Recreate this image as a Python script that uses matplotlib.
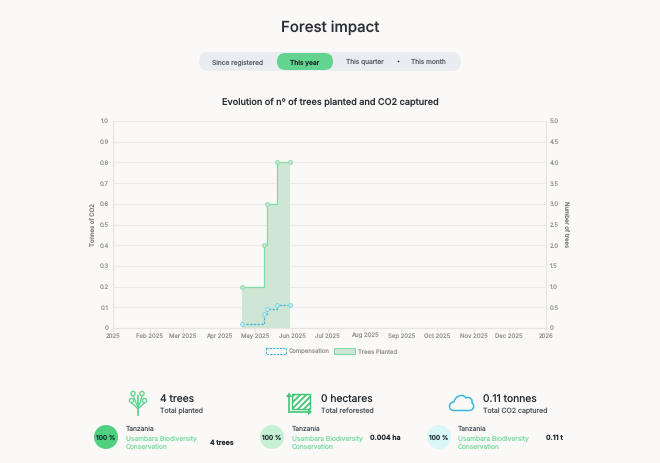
import numpy as np
import matplotlib
matplotlib.use('Agg')
import matplotlib.pyplot as plt
from matplotlib.patches import FancyBboxPatch, Circle, Rectangle, Polygon, PathPatch
from matplotlib.path import Path

# values
tree_dates = ['2025-04-20', '2025-05-08', '2025-05-11', '2025-05-19', '2025-05-30']
trees = [1, 2, 3, 4, 4]
compensation = [0.02, 0.07, 0.09, 0.11, 0.11]

month_starts = ['2025-01-01', '2025-02-01', '2025-03-01', '2025-04-01', '2025-05-01', '2025-06-01',
                '2025-07-01', '2025-08-01', '2025-09-01', '2025-10-01', '2025-11-01', '2025-12-01',
                '2026-01-01']
month_labels = ['2025', 'Feb 2025', 'Mar 2025', 'Apr 2025', 'May 2025', 'Jun 2025', 'Jul 2025',
                'Aug 2025', 'Sep 2025', 'Oct 2025', 'Nov 2025', 'Dec 2025', '2026']
left_ticks = [0, 0.1, 0.2, 0.3, 0.4, 0.5, 0.6, 0.7, 0.8, 0.9, 1.0]
left_labels = ['0', '0.1', '0.2', '0.3', '0.4', '0.5', '0.6', '0.7', '0.8', '0.9', '1.0']
right_ticks = [0, 0.5, 1, 1.5, 2, 2.5, 3, 3.5, 4, 4.5, 5]
right_labels = ['0', '0.5', '1.0', '1.5', '2.0', '2.5', '3.0', '3.5', '4.0', '4.5', '5.0']

plt.rcParams['font.family'] = ['Inter', 'DejaVu Sans']
plt.rcParams['text.hinting'] = 'no_hinting'
plt.rcParams['text.hinting_factor'] = 1

BG = '#faf9f8'
GREEN = '#7fdca5'
BLUE = '#3db8dc'
GREY = '#999999'
W, H = 660, 463

fig = plt.figure(figsize=(W / 100, H / 100), dpi=100, facecolor=BG)

# overlay in pixel coords for the page parts around the chart
page = fig.add_axes([0, 0, 1, 1])
page.set_xlim(0, W)
page.set_ylim(H, 0)
page.axis('off')


def txt(x, y, s, size, color='#333a40', weight='normal', ha='left'):
    page.text(x, y, s, fontsize=size, color=color, fontweight=weight, ha=ha, va='center_baseline')


txt(330, 26.5, 'Forest impact', 10.8, '#2b3137', 'medium', 'center')
page.add_patch(FancyBboxPatch((199, 52), 262, 19, boxstyle='round,pad=0,rounding_size=9.5',
                              fc='#e9ecf1', ec='none'))
page.add_patch(FancyBboxPatch((277, 53), 56, 17, boxstyle='round,pad=0,rounding_size=8.5',
                              fc='#62d48f', ec='none'))
txt(238, 61.5, 'Since registered', 4.75, '#5a6066', 'normal', 'center')
txt(305, 61.5, 'This year', 4.75, '#20262b', 'medium', 'center')
txt(365, 61.5, 'This quarter', 4.75, '#5a6066', 'normal', 'center')
page.add_patch(Circle((398.5, 61.5), 0.8, fc='#222222', ec='none'))
txt(428, 61.5, 'This month', 4.75, '#5a6066', 'normal', 'center')
txt(330, 102, 'Evolution of nº of trees planted and CO2 captured', 6.55, '#2b3137', 'medium', 'center')

# chart
ax = fig.add_axes([113 / W, 1 - 328 / H, 433 / W, 207 / H])
ax.patch.set_alpha(0)
ax2 = ax.twinx()
ax2.patch.set_alpha(0)

t_x = np.array(tree_dates, dtype='datetime64[D]')

ax2.fill_between(t_x, trees, 0, step='post', color='#cfe6d4', lw=0)
ax2.step(t_x, trees, where='post', color=GREEN, lw=0.9)
ax2.plot(t_x, trees, ls='none', marker='o', ms=2.8, mfc='#cfe6d4', mec='#8fdcae', mew=0.7)
comp_scaled = np.array(compensation) * 5
ax2.step(t_x, comp_scaled, where='post', color=BLUE, lw=0.9, ls=(0, (2, 1)))
ax2.plot(t_x, comp_scaled, ls='none', marker='o', ms=2.8, mfc='#cdeef2', mec='#7fd2e6', mew=0.7)

xticks = np.array(month_starts, dtype='datetime64[D]')
ax.set_xlim(xticks[0], xticks[-1])
ax.set_xticks(xticks)
ax.set_xticklabels(month_labels, va='baseline')
ax.set_ylim(0, 1)
ax.set_yticks(left_ticks)
ax.set_yticklabels(left_labels)
ax2.set_ylim(0, 5)
ax2.set_yticks(right_ticks)
ax2.set_yticklabels(right_labels)
ax.grid(axis='y', color='#ecebea', lw=0.9)
ax.grid(axis='x', visible=False)
ax.set_axisbelow(True)
for a in (ax, ax2):
    for s in a.spines.values():
        s.set_visible(False)
    a.tick_params(length=0, labelsize=4.3, labelcolor=GREY, pad=3)
ax.tick_params(axis='x', length=3, color='#e6e5e4', pad=4.1)
ax.spines['left'].set_visible(True)
ax.spines['left'].set_color('#e6e5e4')
ax.spines['bottom'].set_visible(True)
ax.spines['bottom'].set_color('#e6e5e4')
ax2.spines['right'].set_visible(True)
ax2.spines['right'].set_color('#e6e5e4')
ax.set_ylabel('Tonnes of CO2', fontsize=4.3, color='#777777', labelpad=2.5)
ax2.set_ylabel('Number of trees', fontsize=4.3, color='#777777', rotation=270, labelpad=7)

# legend
page.add_patch(Rectangle((265.5, 348), 20.5, 6, fc='none', ec=BLUE, lw=0.8, ls=(0, (2, 1))))
txt(289, 351.4, 'Compensation', 4.3, GREY)
page.add_patch(Rectangle((334, 348), 20.5, 6, fc='#cfe6d4', ec=GREEN, lw=0.8))
txt(358, 351.4, 'Trees Planted', 4.3, GREY)

# tree icon
tree_c = '#62d48f'
page.plot([138, 138], [396, 415], color=tree_c, lw=1.3)
for cx, cy in [(133, 393.5), (142, 393.5), (131.5, 400.5), (144.5, 400.5)]:
    page.add_patch(Circle((cx, cy), 2.1, fc=BG, ec=tree_c, lw=1.0, zorder=3))
page.plot([133.5, 136, 138], [396, 403, 407], color=tree_c, lw=1.0)
page.plot([142, 140, 138], [396, 403, 407], color=tree_c, lw=1.0)
page.plot([131.5, 135, 138], [403, 406, 409], color=tree_c, lw=1.0)
page.plot([144.5, 141, 138], [403, 406, 409], color=tree_c, lw=1.0)

# hatched square with arrows
sq_c = '#3fc776'
sq = Rectangle((292, 394), 18, 15, fc='none', ec=sq_c, lw=1.0)
page.add_patch(sq)
for k in range(-3, 4):
    x0 = 292 + k * 6
    ln, = page.plot([x0, x0 + 15], [409, 394], color=sq_c, lw=1.3)
    ln.set_clip_path(sq)
page.plot([289, 289], [395, 412], color=sq_c, lw=1.2)
page.plot([289, 309], [412, 412], color=sq_c, lw=1.2)
page.add_patch(Polygon([[286, 397], [289, 392.5], [292, 397]], fc=sq_c, ec='none'))
page.add_patch(Polygon([[308, 409], [312, 412], [308, 415]], fc=sq_c, ec='none'))

# cloud icon
cloud = Path([(454, 410.5), (448, 410.5), (448, 402), (454, 402),
              (455, 396), (463, 393), (466, 398),
              (470, 396), (473, 400), (472, 403),
              (475, 405), (474, 410.5), (469, 410.5), (454, 410.5)],
             [Path.MOVETO, Path.CURVE4, Path.CURVE4, Path.CURVE4,
              Path.CURVE4, Path.CURVE4, Path.CURVE4,
              Path.CURVE4, Path.CURVE4, Path.CURVE4,
              Path.CURVE4, Path.CURVE4, Path.CURVE4, Path.CLOSEPOLY])
page.add_patch(PathPatch(cloud, fc='none', ec=BLUE, lw=1.1))

# summary blocks
heads = ['4 trees', '0 hectares', '0.11 tonnes']
subs = ['Total planted', 'Total reforested', 'Total CO2 captured']
head_x = [160, 321, 483]
amounts = ['4 trees', '0.004 ha', '0.11 t']
amount_x = [209.5, 370, 546]
amount_y = [442, 437, 437]
circle_x = [106, 272, 439]
circle_c = ['#4fd081', '#c5f0d3', '#d9f7f8']
name_x = [125.5, 291.5, 458]

for i in range(3):
    txt(head_x[i], 398.5, heads[i], 7.4, '#20262b', 'normal')
    txt(head_x[i], 410, subs[i], 5.0, '#555b60')
    page.add_patch(Circle((circle_x[i], 437), 12, fc=circle_c[i], ec='none'))
    txt(circle_x[i], 437.5, '100 %', 4.7, '#20262b', 'medium', 'center')
    txt(name_x[i], 428.5, 'Tanzania', 4.8, '#555b60')
    txt(name_x[i], 437.5, 'Usambara Biodiversity', 4.8, GREEN)
    txt(name_x[i], 446.5, 'Conservation', 4.8, GREEN)
    txt(amount_x[i], amount_y[i], amounts[i], 5.0, '#20262b', 'semibold')

fig.savefig('out.png', dpi=100, facecolor=BG)
